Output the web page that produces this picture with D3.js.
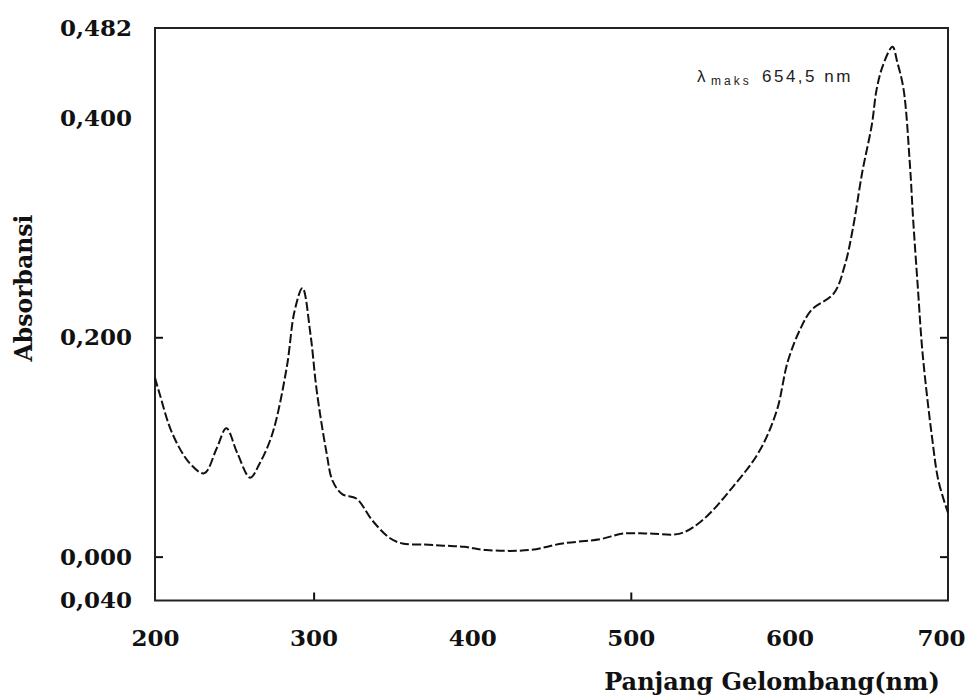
<!DOCTYPE html>
<html>
<head>
<meta charset="utf-8">
<script src="https://cdn.jsdelivr.net/npm/d3@7"></script>
<style>
  body { margin: 0; background: #fff; }
  svg { display: block; }
</style>
</head>
<body>
<script>
// spectrum (nm, absorbance)
var wavelength = [200, 203, 211, 222, 231, 239, 245, 252, 260, 266, 274, 283, 288, 293, 298, 302, 308, 312, 318, 327, 337, 348, 356, 370, 382, 395, 409, 436, 457, 481, 495, 512, 531, 545, 564, 581, 592, 599, 607, 614, 628, 635, 640, 646, 652, 655, 659, 665, 668, 672, 676, 678, 681, 684, 690, 694, 700];
var absorbance = [0.163, 0.148, 0.112, 0.085, 0.076, 0.099, 0.117, 0.094, 0.072, 0.085, 0.112, 0.172, 0.224, 0.245, 0.203, 0.151, 0.096, 0.069, 0.057, 0.053, 0.033, 0.017, 0.012, 0.011, 0.010, 0.009, 0.006, 0.006, 0.012, 0.016, 0.021, 0.021, 0.021, 0.033, 0.063, 0.096, 0.133, 0.178, 0.208, 0.225, 0.240, 0.266, 0.299, 0.351, 0.394, 0.426, 0.448, 0.465, 0.451, 0.426, 0.357, 0.308, 0.245, 0.185, 0.108, 0.069, 0.040];

var xTicks = [200, 300, 400, 500, 600, 700];
var yTicks = [0.482, 0.4, 0.2, 0, -0.04];
var yTickLabels = ["0,482", "0,400", "0,200", "0,000", "0,040"];
var xMarks = [300, 500];   // little inward ticks
var yMarks = [0.2, 0];

var w = 969, h = 696;
var mLeft = 155, mRight = 948, mTop = 28, mBottom = 600.5;

var svg = d3.select("body").append("svg")
    .attr("width", w)
    .attr("height", h);

var x = d3.scaleLinear().domain([200, 700]).range([mLeft, mRight]);
var y = d3.scaleLinear().domain([-0.04, 0.482]).range([mBottom, mTop]);

var labelFont = "'DejaVu Serif', serif";

// tick labels
var yLab = svg.append("g").attr("transform", "translate(" + mLeft + ",0)")
    .call(d3.axisLeft(y).tickValues(yTicks).tickSize(0).tickPadding(23)
        .tickFormat(function(d, i) { return yTickLabels[i]; }));
yLab.select(".domain").remove();
yLab.selectAll("text").attr("font-family", labelFont).attr("font-weight", "bold")
    .attr("font-size", 23).attr("fill", "#111");

var xLab = svg.append("g").attr("transform", "translate(0," + mBottom + ")")
    .call(d3.axisBottom(x).tickValues(xTicks).tickSize(0).tickPadding(29)
        .tickFormat(d3.format("d")));
xLab.select(".domain").remove();
xLab.selectAll("text").attr("font-family", labelFont).attr("font-weight", "bold")
    .attr("font-size", 23).attr("fill", "#111");
// last label sits against the page edge
xLab.selectAll("text").filter(function(d) { return d === 700; }).attr("x", -7);

// inward tick marks on left, right and bottom
svg.append("g").attr("transform", "translate(" + mLeft + ",0)")
    .call(d3.axisLeft(y).tickValues(yMarks).tickSize(-8).tickFormat(""))
    .call(function(g) { g.select(".domain").remove(); });
svg.append("g").attr("transform", "translate(" + mRight + ",0)")
    .call(d3.axisRight(y).tickValues(yMarks).tickSize(-8).tickFormat(""))
    .call(function(g) { g.select(".domain").remove(); });
svg.append("g").attr("transform", "translate(0," + mBottom + ")")
    .call(d3.axisBottom(x).tickValues(xMarks).tickSize(-8).tickFormat(""))
    .call(function(g) { g.select(".domain").remove(); });
svg.selectAll(".tick line").attr("stroke", "#111").attr("stroke-width", 2);

// frame
svg.append("rect")
    .attr("x", mLeft).attr("y", mTop)
    .attr("width", mRight - mLeft).attr("height", mBottom - mTop)
    .attr("fill", "none").attr("stroke", "#222").attr("stroke-width", 2);

// the spectrum
var line = d3.line()
    .x(function(d, i) { return x(wavelength[i]); })
    .y(function(d) { return y(d); })
    .curve(d3.curveCatmullRom);

svg.append("path")
    .datum(absorbance)
    .attr("d", line)
    .attr("fill", "none")
    .attr("stroke", "#111")
    .attr("stroke-width", 2)
    .attr("stroke-dasharray", "9,3");

// annotation
var ann = svg.append("text")
    .attr("y", 82)
    .attr("font-family", "'Liberation Sans', Arial, sans-serif")
    .attr("font-size", 17).attr("fill", "#222");
ann.append("tspan").attr("x", 697).text("λ");
ann.append("tspan").attr("x", 711).attr("y", 85).attr("font-size", 12)
    .attr("letter-spacing", 3).text("maks");
ann.append("tspan").attr("x", 762).attr("y", 82).attr("letter-spacing", 2.5).text("654,5 nm");

// axis titles
svg.append("text")
    .attr("x", 772).attr("y", 690)
    .attr("text-anchor", "middle")
    .attr("font-family", labelFont).attr("font-weight", "bold")
    .attr("font-size", 24).attr("fill", "#111")
    .text("Panjang Gelombang(nm)");

svg.append("text")
    .attr("transform", "translate(32,288) rotate(-90)")
    .attr("text-anchor", "middle")
    .attr("font-family", labelFont).attr("font-weight", "bold")
    .attr("font-size", 23.5).attr("fill", "#111")
    .text("Absorbansi");
</script>
</body>
</html>
